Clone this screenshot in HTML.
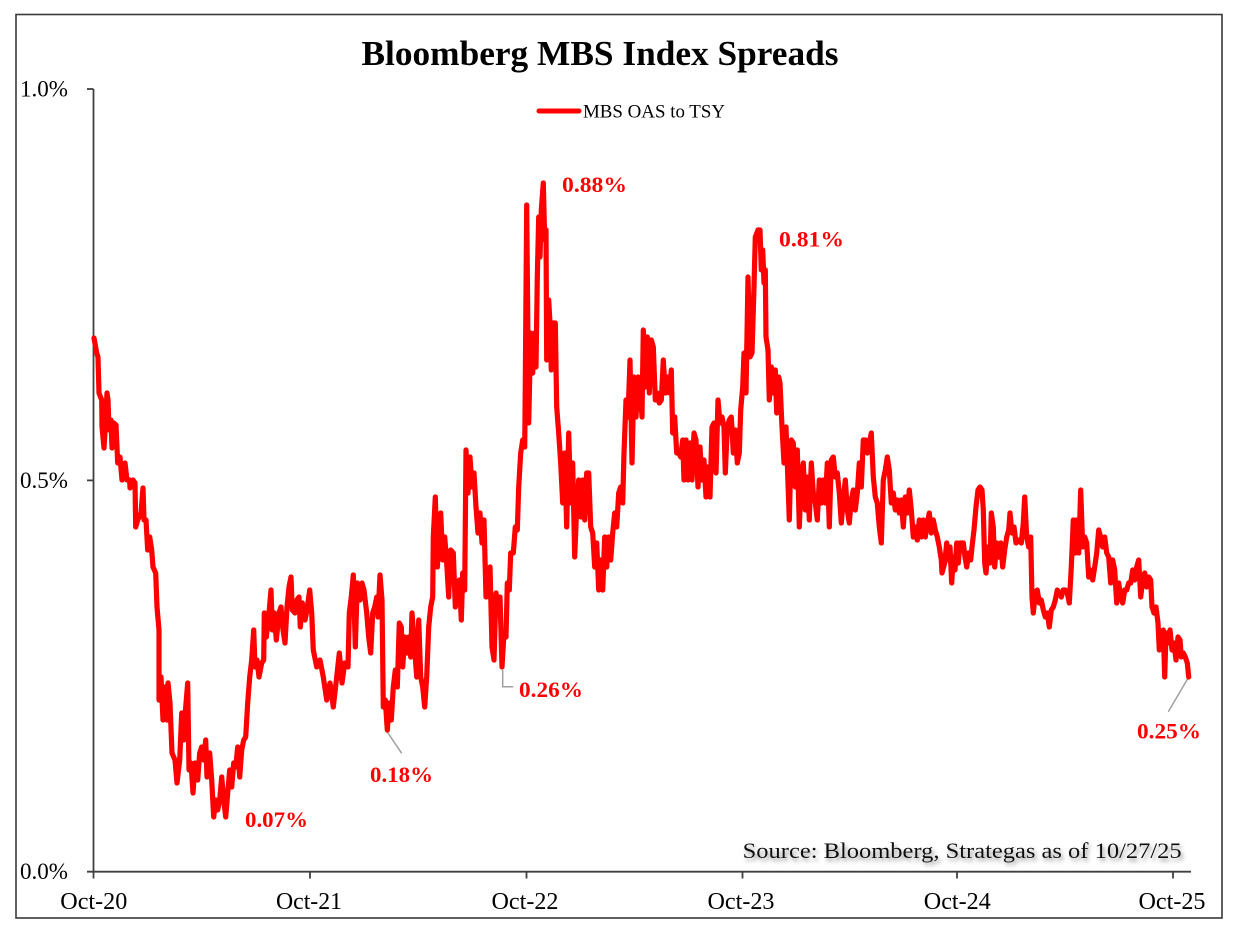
<!DOCTYPE html>
<html>
<head>
<meta charset="utf-8">
<style>
  html, body { margin: 0; padding: 0; background: #ffffff; }
  body { width: 1235px; height: 930px; overflow: hidden; }
  svg { display: block; }
  text { font-family: "Liberation Serif", "DejaVu Serif", serif; }
</style>
</head>
<body>
<svg width="1235" height="930" viewBox="0 0 1235 930" xmlns="http://www.w3.org/2000/svg">
  <defs>
    <filter id="sh" x="-5%" y="-50%" width="110%" height="200%">
      <feDropShadow dx="2" dy="3" stdDeviation="2" flood-color="#808080" flood-opacity="0.9"/>
    </filter>
  </defs>
  <rect x="0" y="0" width="1235" height="930" fill="#ffffff"/>
  <!-- outer border -->
  <rect x="16" y="14.5" width="1206" height="903.5" fill="none" stroke="#3a3a3a" stroke-width="1.6"/>

  <!-- title -->
  <text x="600" y="65" text-anchor="middle" font-size="35" font-weight="bold" fill="#000" textLength="477" lengthAdjust="spacingAndGlyphs">Bloomberg MBS Index Spreads</text>

  <!-- legend -->
  <line x1="539" y1="111" x2="579" y2="111" stroke="#ff0000" stroke-width="5" stroke-linecap="round"/>
  <text x="583" y="117.5" font-size="19" fill="#000" textLength="142" lengthAdjust="spacingAndGlyphs">MBS OAS to TSY</text>

  <!-- axes -->
  <line x1="93.5" y1="89" x2="93.5" y2="872" stroke="#404040" stroke-width="1.8"/>
  <line x1="87" y1="871.7" x2="1191" y2="871.7" stroke="#404040" stroke-width="1.8"/>
  <!-- y ticks -->
  <line x1="87" y1="89" x2="93.5" y2="89" stroke="#404040" stroke-width="1.8"/>
  <line x1="87" y1="480.4" x2="93.5" y2="480.4" stroke="#404040" stroke-width="1.8"/>
  <!-- x ticks -->
  <g stroke="#404040" stroke-width="1.8">
    <line x1="93.5" y1="871.7" x2="93.5" y2="878.5"/>
    <line x1="310" y1="871.7" x2="310" y2="878.5"/>
    <line x1="526.5" y1="871.7" x2="526.5" y2="878.5"/>
    <line x1="742.5" y1="871.7" x2="742.5" y2="878.5"/>
    <line x1="957" y1="871.7" x2="957" y2="878.5"/>
    <line x1="1173" y1="871.7" x2="1173" y2="878.5"/>
  </g>

  <!-- y labels -->
  <g font-size="23" fill="#000">
    <text x="20" y="96.5" textLength="48" lengthAdjust="spacingAndGlyphs">1.0%</text>
    <text x="20" y="488" textLength="48" lengthAdjust="spacingAndGlyphs">0.5%</text>
    <text x="20" y="879" textLength="48" lengthAdjust="spacingAndGlyphs">0.0%</text>
  </g>
  <!-- x labels -->
  <g font-size="24" fill="#000" text-anchor="middle">
    <text x="93.8" y="909" textLength="67" lengthAdjust="spacingAndGlyphs">Oct-20</text>
    <text x="309" y="909" textLength="66" lengthAdjust="spacingAndGlyphs">Oct-21</text>
    <text x="525" y="909" textLength="67" lengthAdjust="spacingAndGlyphs">Oct-22</text>
    <text x="741" y="909" textLength="67" lengthAdjust="spacingAndGlyphs">Oct-23</text>
    <text x="957.3" y="909" textLength="67" lengthAdjust="spacingAndGlyphs">Oct-24</text>
    <text x="1172" y="909" textLength="67" lengthAdjust="spacingAndGlyphs">Oct-25</text>
  </g>

  <!-- source -->
  <text x="742.7" y="858" font-size="22" fill="#111" filter="url(#sh)" textLength="439" lengthAdjust="spacingAndGlyphs">Source: Bloomberg, Strategas as of 10/27/25</text>

  <!-- leader lines -->
  <g stroke="#a0a0a0" stroke-width="1.5" fill="none">
    <polyline points="387.3,732 401.7,753.3"/>
    <polyline points="502.7,670 502.7,686.7 513.3,686.7"/>
    <polyline points="1188.7,677 1168.3,711.7"/>
  </g>

  <!-- series -->
  <polyline fill="none" stroke="#ff0000" stroke-width="5.2" stroke-linejoin="round" stroke-linecap="round" points="
94,338 96.7,353 98,357 99,393 101.7,400 102,427 104,448 105.7,420 107,393 108,400 109,430 111,420 112,448 113.7,423 116,425 117.7,463 120,457 122,480 125,463 127,480 129.7,480 130,488 133,480 135,483 135.7,527 137.7,520 141,513 143,488 144,520 146,520 147.7,550 149.7,537 151.7,550 153,567 155.7,573 157,607 159,630 159,700 161,677 163,720 165,687 167,720 168,683 170,703 172,753 175,760 177,783 179.7,760 181.7,713 183.7,740 185.7,707 187.7,683 189,770 191,763 193,793 195,763 197.7,780 199.7,753 201.7,747 203.7,760 205.7,740 207,777 209.7,753 211.7,780 213.7,817 215.7,800 217.7,810 219.7,800 221.7,777 223.7,800 225.7,817 227.7,793 229.7,770 231.7,787 233.7,763 235.7,767 237.7,747 239.7,777 241.7,750 243.7,740 245.7,737 247.7,703 249.7,677 251.7,660 253.7,630 255,667 257,660 259,677 261.7,663 263.7,660 264.3,613 266.3,637 269,613 271,590 272.3,630 274.3,613 276.3,640 279,613 281,607 283,630 285,643 287,607 289,587 291,577 292.3,610 295,613 297,600 299,597 300.3,627 302.3,603 305,620 307,610 309.7,590 311.7,613
313.3,650 316.7,667 320,660 323.3,677 326.7,700 330,683 333.3,707 336.7,677 339.3,653 342,683 344.7,663 348,667 349.3,613 351.3,597 353.3,575 355.3,647 357.3,583 360,600 362,583 364,590 366.7,613 368.7,637 370.7,653 372.7,613 374.7,607 376.7,597 378,617 380,575 382,600 383.3,707 385.3,700 387.3,730 389.3,703 391.3,720 393.3,687 395.3,670 397.3,687 399.3,623 401.3,627 402.7,667 404.7,637 406.7,653 408.7,637 410.7,657 412,613 414,640 416.7,677 418.7,620 420.7,677 422.7,687 424.7,707 426.7,677 428.7,627 430.7,607 432.7,597 433.3,537 435.3,497 437.3,567 439.3,540 440.7,513 442.7,560 444.7,537 446.7,563 448.7,597 450.7,550 453.3,553 455.3,607 457.3,590 459.3,580 461.3,620 462.7,573 464.7,590 466,450 468,493 470,457 472,487 474,473 476,507 478,533 480,513 482,543 484,520 486,597 488,573 490,567 492,647 494,660 496,593 498,607 500,597 502,667 504,633 506,637 507.3,583 509.3,590 510.7,553 513.3,553 515.3,527 517.3,530 518.7,487 520.7,453 522.7,440 524.7,447 525,420 526.7,205
528.7,423 530.7,333 532.7,373 534.7,333 536,367 537.3,277 538.7,217 540,257 541.3,210 543.3,183 544.7,240 546,230 546.7,360 548.7,300 550,323 551.3,370 553.3,323 555.3,323 556.7,407 558.7,433 560.7,463 562.7,503 564.7,453 566.7,527 568.7,433 570.7,503 572.7,463 574.7,557 576.7,507 578.7,480 580.7,517 582.7,480 584.7,520 586.7,473 588.7,473 590.7,527 592.7,533 594.7,567 596.7,543 598.7,590 600.7,560 602.7,590 604.7,537 606.7,567 608.7,537 610.7,560 612.7,533 614.7,513 616.7,527 618.7,493 620.7,487 622.7,503 624,453 626,400 628,417 630,360 632,463 634,377 636,417 638,377 640,387 642,417 643.3,330 645.3,387 647.3,337 649.3,393 651.3,340 653.3,347 655.3,400 657.3,393 659.3,403 661.3,400 663.3,360 665.3,393 667.3,377 669.3,393 671.3,370 672.7,433 674.7,417 676.7,453 678.7,453 680.7,457 682.7,440 684,480 686,440 688,480 690,443 692,480 694,433 696,440 698,487 700,447 702,480 704,460 706,497 708,467 710,497 712,427 714,423 716,473 718,400 720,423 722,417 724,427 725.3,473 727.3,427 729.3,420 731.3,417 733.3,453 735.3,430 737.3,463 739.3,453 740.7,410 742.7,387 744,353 746,393 748,277 750,357 752,353 754,287 755.3,237
758,230 760,230 761.3,270 762.7,250 764,283 765.3,270 766,337 768,350 769.3,400 771.3,367 773.3,393 775.3,370 776.7,413 778.7,377 780,383 782,427 784,463 786,427 787.3,463 789.3,520 791.3,440 793.3,443 795.3,487 797.3,450 799.3,527 801.3,477 803.3,463 805.3,510 807.3,477 809.3,520 811.3,463 813.3,493 815.3,503 817.3,520 819.3,480 821.3,503 823.3,480 825.3,503 827.3,463 829.3,527 831.3,460 833.3,457 835.3,477 837.3,473 839.3,493 841.3,523 843.3,500 845.3,480 847.3,510 849.3,523 851.3,500 853.3,490 855.3,510 857.3,493 859.3,463 861.3,487 863.3,440 865.3,440 867.3,453 869.3,443 871.3,433 873.3,477 875.3,497 877.3,503 879.3,527 881.3,543 883.3,480 885.3,470 887.3,457 889.3,470 891.3,503 893.3,493 895.3,510 897.3,500 899.3,513 901.3,500 903.3,527 905.3,497 907.3,513 909.3,490 911.3,510 913.3,537 915.3,527 917.3,540 919.3,520 921.3,537 923.3,520 925.3,537 927.3,523 929.3,513 931.3,533 933.3,520 935.3,530 937.3,537 939.3,547 941.3,560 942,573 944.7,563 946.7,543 948.7,560 950,547
951.7,583 953.3,557 955,570 956.7,543 958.3,563 960,543 963.3,543 965,557 966.7,567 968.7,553 970.7,560 972,547 974,530 976,507 978,490 980,487 982,490 983.3,510 984.7,563 986,573 988,547 990,563 991.3,513 993.3,527 994.7,567 996.7,543 998.7,557 1000.7,543 1002.7,567 1004.7,550 1006.7,537 1008.7,530 1010,513 1012,533 1014,527 1016,543 1018.7,540 1021.3,543 1023.3,523 1024.7,497 1026.7,537 1028.7,547 1030.7,537 1032,597 1033.3,613 1035.3,593 1037.3,590 1039.3,603 1041.3,600 1043.3,610 1045.3,617 1047.3,613 1049.3,627 1051.3,610 1053.3,607 1055.3,600 1057.3,590 1059.3,593 1061.3,597 1063.3,590 1065.3,590 1067.3,593 1069.3,603 1071.3,567 1073.3,520 1075.3,553 1076.7,520 1078.7,553 1080.7,490 1082.7,547 1084.7,537 1086.7,543 1088.7,577 1090.7,570 1092.7,580 1094.7,567 1096.7,553 1098.7,530 1100.7,537 1102.7,547 1104.7,537 1106.7,553 1108.7,557 1110.7,583 1112.7,560 1114.7,570 1116.7,603 1118.7,583 1120.7,597 1122.7,603 1124.7,590 1126.7,590 1128.7,583 1130.7,583 1132.7,570 1134.7,580 1136.7,567 1138.7,560 1140.7,597 1142.7,580 1144.7,573 1146.7,587 1148.7,577 1150.7,580 1152,607 1154,613 1156,607 1158,623 1159.3,650 1161.3,633 1163.3,630 1164.7,677 1166,633 1168,643 1170,630 1172,650 1174,643 1176,660 1178,637 1180,640 1181.3,657 1183.3,653 1185.3,657 1187.3,663 1188.7,677"/>

  <!-- value annotations -->
  <g font-size="22" font-weight="bold" fill="#ff0000">
    <text x="562" y="192" textLength="65" lengthAdjust="spacingAndGlyphs">0.88%</text>
    <text x="779" y="246.5" textLength="65" lengthAdjust="spacingAndGlyphs">0.81%</text>
    <text x="519" y="697" textLength="64" lengthAdjust="spacingAndGlyphs">0.26%</text>
    <text x="370" y="782" textLength="63" lengthAdjust="spacingAndGlyphs">0.18%</text>
    <text x="245" y="827" textLength="63" lengthAdjust="spacingAndGlyphs">0.07%</text>
    <text x="1137" y="738.5" textLength="64" lengthAdjust="spacingAndGlyphs">0.25%</text>
  </g>
</svg>
</body>
</html>
